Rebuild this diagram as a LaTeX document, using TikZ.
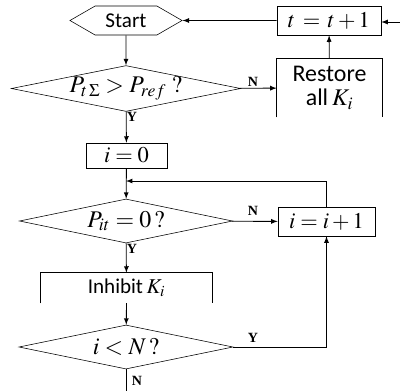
\documentclass[tikz,border=0pt]{standalone}
\usepackage{mathptmx}
\usepackage{fontspec}
\setmainfont{Carlito}
\newfontfamily\yesnofont{Liberation Serif}
\usepackage{tikz}
\usetikzlibrary{shapes.geometric,shapes.symbols}

\begin{document}
\begin{tikzpicture}[x=0.025cm,y=-0.025cm]
	 \tikzstyle{block}=[rectangle,draw,inner sep=0pt,font=\fontsize{16}{18}\selectfont]
	 \tikzstyle{open}=[rectangle,inner sep=0pt,align=center,font=\fontsize{15}{17}\selectfont]
	 \tikzstyle{test}=[diamond,draw,inner sep=0pt,aspect=5,font=\fontsize{17}{19}\selectfont]
	 \tikzstyle{yn}=[inner sep=0pt,font=\yesnofont\bfseries\fontsize{10}{11}\selectfont]
	 \tikzstyle{edge}=[draw,line width=0.6pt,-latex,black]
	 \useasboundingbox (0,0) rectangle (400,391);
	 \node[signal,signal to=west and east,signal pointer angle=60,draw,inner sep=0pt,
	   minimum width=2.8cm,minimum height=0.725cm,font=\fontsize{15}{17}\selectfont] (start) at (126,20.5) {Start};
	 \node[block,minimum width=2.6cm,minimum height=0.725cm] (tinc) at (329,20.5) {$t\,=\,t+1$};
	 \node[test,minimum width=5.3cm,minimum height=1.075cm] (d1) at (126,88.5) {$P_{t\,\Sigma}>P_{ref}\;?$};
	 \node[open,minimum width=2.625cm,minimum height=1.45cm,font=\fontsize{17}{17}\selectfont] (restore) at (329.5,88) {Restore\\all\,$K_i$};
	 \node[block,minimum width=2.025cm,minimum height=0.625cm] (izero) at (126.5,155.5) {$i=0$};
	 \node[test,minimum width=5.325cm,minimum height=1.1cm] (d2) at (126,221) {$P_{it}=0\,?$};
	 \node[block,minimum width=2.425cm,minimum height=0.725cm] (iinc) at (326.5,221.5) {$i=i+1$};
	 \node[open,minimum width=4.275cm,minimum height=0.75cm] (inhibit) at (126.5,288) {Inhibit\,$K_i$};
	 \node[test,minimum width=5.35cm,minimum height=1.1cm] (d3) at (126,347) {$i<N\,?$};
	 \coordinate (feed) at (400,22);
	 \coordinate (loop) at (126,181);
	 \coordinate (stop) at (126,391);
	 \node[yn] (n1) at (253,82) {N};
	 \node[yn] (y1) at (132,117) {Y};
	 \node[yn] (n2) at (253,211) {N};
	 \node[yn] (y2) at (132,249) {Y};
	 \node[yn] (y3) at (253,338) {Y};
	 \node[yn] (n3) at (137,381) {N};
	 % open boxes
	 \draw[line width=0.6pt] (restore.south west) -- (restore.north west) -- (restore.north east) -- (restore.south east);
	 \draw[line width=0.6pt] (inhibit.south west) -- (inhibit.north west) -- (inhibit.north east) -- (inhibit.south east);
	 % flow
	 \draw[edge] (feed) -- (tinc.east |- feed);
	 \draw[edge] (tinc) -- (start);
	 \draw[edge] (start) -- (d1);
	 \draw[edge] (d1) -- (restore);
	 \draw[edge] (restore) -- (tinc);
	 \draw[edge] (d1) -- (izero);
	 \draw[edge] (izero) -- (d2);
	 \draw[edge] (iinc.north) |- (loop);
	 \draw[edge] (d2) -- (iinc);
	 \draw[edge] (d2) -- (inhibit);
	 \draw[edge] (inhibit.center |- 0,303) -- (d3);
	 \draw[edge] (d3.east) -| (iinc.south);
	 \draw[line width=0.6pt] (d3) -- (stop);
 \end{tikzpicture}
\end{document}
